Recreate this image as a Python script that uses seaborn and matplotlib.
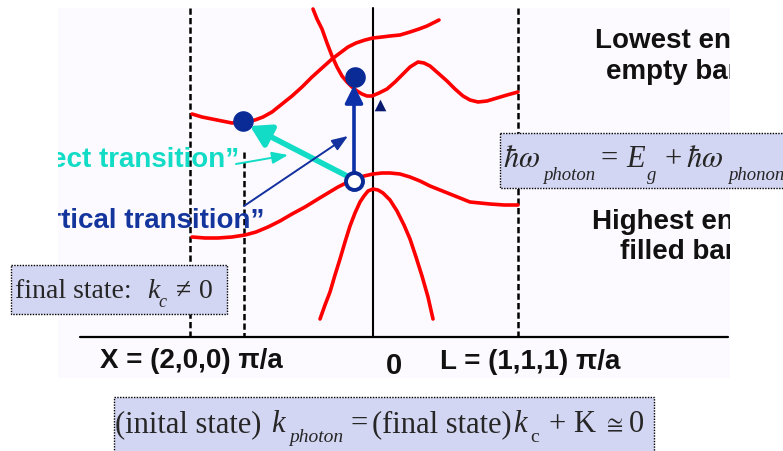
import pandas as pd
import matplotlib.pyplot as plt
import seaborn as sns
from matplotlib.patches import Rectangle
from matplotlib.transforms import Bbox, TransformedBbox

sns.set_theme(style="white")
plt.rcParams['font.family'] = ['Liberation Sans', 'DejaVu Sans']
plt.rcParams['mathtext.fontset'] = 'stix'

# --- band curves (k across, energy down, picture units) ---
cb_upper_k = [192, 202, 212, 222, 232, 243, 255, 263, 272, 282, 292, 302, 312, 322, 332,
              340, 348, 356, 365, 373, 382, 390, 400, 410, 419, 427, 433, 439]
cb_upper_e = [115, 118, 120, 122, 124, 123, 121, 118, 113, 105, 97, 88, 78, 69, 60,
              54, 48, 44, 41, 39, 38, 37, 36, 33, 30, 27, 24, 21]

cb_lower_k = [313, 317, 322, 327, 332, 337, 342, 347, 352, 357, 362, 367, 372, 379, 387,
              395, 403, 410, 418, 424, 430, 438, 447, 455, 463, 470, 478, 487, 497, 507, 518]
cb_lower_e = [10, 20, 30, 44, 57, 68, 77, 83, 88, 92, 95, 97, 97, 94, 90,
              83, 75, 68, 63, 64, 67, 74, 82, 90, 97, 101, 103, 102, 99, 96, 93]

vb_upper_k = [192, 205, 218, 232, 245, 256, 268, 280, 292, 305, 318, 328, 338, 346, 355,
              364, 373, 382, 390, 400, 410, 420, 430, 440, 450, 460, 470, 480, 490, 504, 518]
vb_upper_e = [238, 239, 239, 238, 236, 233, 228, 222, 215, 208, 200, 194, 188, 184, 181,
              177, 175, 174, 174, 175, 178, 182, 187, 191, 195, 199, 203, 204, 205, 206, 206]

vb_lower_k = [320, 325, 330, 335, 340, 345, 350, 355, 360, 364, 368, 373, 378, 383, 390,
              397, 404, 410, 416, 422, 428, 433]
vb_lower_e = [320, 306, 293, 276, 260, 243, 227, 214, 203, 197, 192, 190, 191, 194, 201,
              212, 226, 240, 258, 277, 298, 320]

# k points: X, k_c, Gamma, L
kpoint_x = [190, 244, 373, 518]
axis_e = 338

# electron states
final_k = [243, 355]
final_e = [122, 78]
initial_k = [354]
initial_e = [182]
phonon_k = [380]
phonon_e = [106]

# transitions (start k, start E, end k, end E)
vertical_tr = (354, 174, 354, 86)
indirect_tr = (347, 177, 250, 127)
indirect_lbl = (236, 165, 288, 156)
vertical_lbl = (244, 207, 348, 137)

bands = pd.concat([
    pd.DataFrame({'k': cb_upper_k, 'E': cb_upper_e, 'band': 'c1'}),
    pd.DataFrame({'k': cb_lower_k, 'E': cb_lower_e, 'band': 'c2'}),
    pd.DataFrame({'k': vb_upper_k, 'E': vb_upper_e, 'band': 'v1'}),
    pd.DataFrame({'k': vb_lower_k, 'E': vb_lower_e, 'band': 'v2'}),
])

RED = '#ff0000'
NAVY = '#0a2a96'
CYAN = '#12dcc6'
BOX = '#d3d6f2'

fig = plt.figure(figsize=(7.83, 4.52), dpi=100)
ax = fig.add_axes([0, 0, 1, 1])

slide = Rectangle((58, 9), 672, 370, facecolor='#fcfaff', edgecolor='none', zorder=0)
ax.add_patch(slide)

# axis + k point lines
ax.plot([80, 728], [axis_e, axis_e], color='black', lw=1.6, zorder=2)
for i, kx in enumerate(kpoint_x):
    top = 153 if i == 1 else 9
    if i == 2:
        ax.plot([kx, kx], [top, axis_e], color='black', lw=1.5, zorder=2)
    else:
        ax.plot([kx, kx], [top, axis_e], color='black', lw=1.8,
                dashes=(2.5, 1.3), zorder=2)

sns.lineplot(data=bands, x='k', y='E', units='band', estimator=None, sort=False,
             color=RED, lw=2.6, ax=ax, zorder=3)

# arrows
ax.annotate('', xy=vertical_tr[2:], xytext=vertical_tr[:2], zorder=4,
            arrowprops=dict(arrowstyle='-|>,head_length=0.9,head_width=0.45',
                            color='#0b30a8', lw=2.6, shrinkA=0, shrinkB=0))
ax.annotate('', xy=indirect_tr[2:], xytext=indirect_tr[:2], zorder=4,
            arrowprops=dict(arrowstyle='-|>,head_length=1.0,head_width=0.6',
                            color=CYAN, lw=4, shrinkA=0, shrinkB=0))
ax.annotate('', xy=indirect_lbl[2:], xytext=indirect_lbl[:2], zorder=4,
            arrowprops=dict(arrowstyle='-|>,head_length=0.8,head_width=0.3',
                            color=CYAN, lw=1.4, shrinkA=0, shrinkB=0))
ax.annotate('', xy=vertical_lbl[2:], xytext=vertical_lbl[:2], zorder=4,
            arrowprops=dict(arrowstyle='-|>,head_length=0.8,head_width=0.3',
                            color='#12309e', lw=1.4, shrinkA=0, shrinkB=0))

sns.scatterplot(x=final_k, y=final_e, s=220, color=NAVY, edgecolor=NAVY,
                linewidth=0, ax=ax, zorder=5)
sns.scatterplot(x=initial_k, y=initial_e, s=150, color='white', edgecolor=NAVY,
                linewidth=2.8, ax=ax, zorder=5)
sns.scatterplot(x=phonon_k, y=phonon_e, s=70, marker='^', color='#0a1a70',
                edgecolor='#0a1a70', linewidth=0, ax=ax, zorder=5)

ax.set_xlim(0, 783)
ax.set_ylim(452, 0)
ax.axis('off')

# text clipped to the slide area
clip = TransformedBbox(Bbox.from_extents(58, 9, 730, 379), ax.transData)

def slide_text(x, y, s, **kw):
    t = ax.text(x, y, s, fontsize=20, fontweight='bold', zorder=6, **kw)
    t.set_clip_box(clip)
    t.set_clip_on(True)
    return t

slide_text(239, 160, '\u201cIndirect transition\u201d', color=CYAN, ha='right', va='center')
slide_text(264, 221, '\u201cVertical transition\u201d', color='#14359c', ha='right', va='center')
for x, y, s in [(595, 41, 'Lowest energy'), (606, 72, 'empty band'),
                (592, 222, 'Highest energy'), (620, 252, 'filled band')]:
    slide_text(x, y, s, color='#111111', ha='left', va='center')

ax.text(100, 361, 'X = (2,0,0) \u03c0/a', fontsize=20, fontweight='bold',
        color='#111111', ha='left', va='center')
ax.text(394, 366, '0', fontsize=21, fontweight='bold', color='#111111',
        ha='center', va='center')
ax.text(440, 362, 'L = (1,1,1) \u03c0/a', fontsize=20, fontweight='bold',
        color='#111111', ha='left', va='center')

# boxed equations
for (x0, y0, w, h) in [(500, 134, 300, 55), (11, 266, 216, 49), (114, 398, 540, 60)]:
    ax.add_patch(Rectangle((x0, y0), w, h, facecolor=BOX, edgecolor='black',
                           lw=1.0, linestyle=(0, (1, 1)), zorder=6))

serif = ['Liberation Serif', 'DejaVu Serif']


def pieces(items, base, sub_base, size=22, sub_size=14):
    # items: (x, text, is_subscript, italic)
    for x, s, sub, it in items:
        ax.text(x, sub_base if sub else base, s, fontsize=sub_size if sub else size,
                family=serif, style='italic' if it else 'normal',
                ha='left', va='baseline', zorder=7)


pieces([(503, r'$\hbar\omega$', False, False), (543, 'photon', True, True),
        (601, '=', False, False), (626, 'E', False, True), (647, 'g', True, True),
        (665, '+', False, False), (686, r'$\hbar\omega$', False, False),
        (728, 'phonon', True, True)], base=167, sub_base=180, sub_size=13.5)

pieces([(15, 'final state:', False, False), (147, 'k', False, True),
        (158, 'c', True, True), (176, '\u2260', False, False),
        (199, '0', False, False)], base=298, sub_base=307, size=20, sub_size=13)

pieces([(115, '(inital state)', False, False), (271, 'k', False, True),
        (289, 'photon', True, True), (351, '=', False, False),
        (372, '(final state)', False, False), (513, 'k', False, True),
        (530, 'c', True, False), (548, '+', False, False),
        (573, 'K', False, False), (629, '0', False, False)],
       base=432, sub_base=442)
ax.text(603, 431, r'$\cong$', fontsize=17, ha='left', va='baseline', zorder=7)

plt.savefig('out.png', dpi=100)
